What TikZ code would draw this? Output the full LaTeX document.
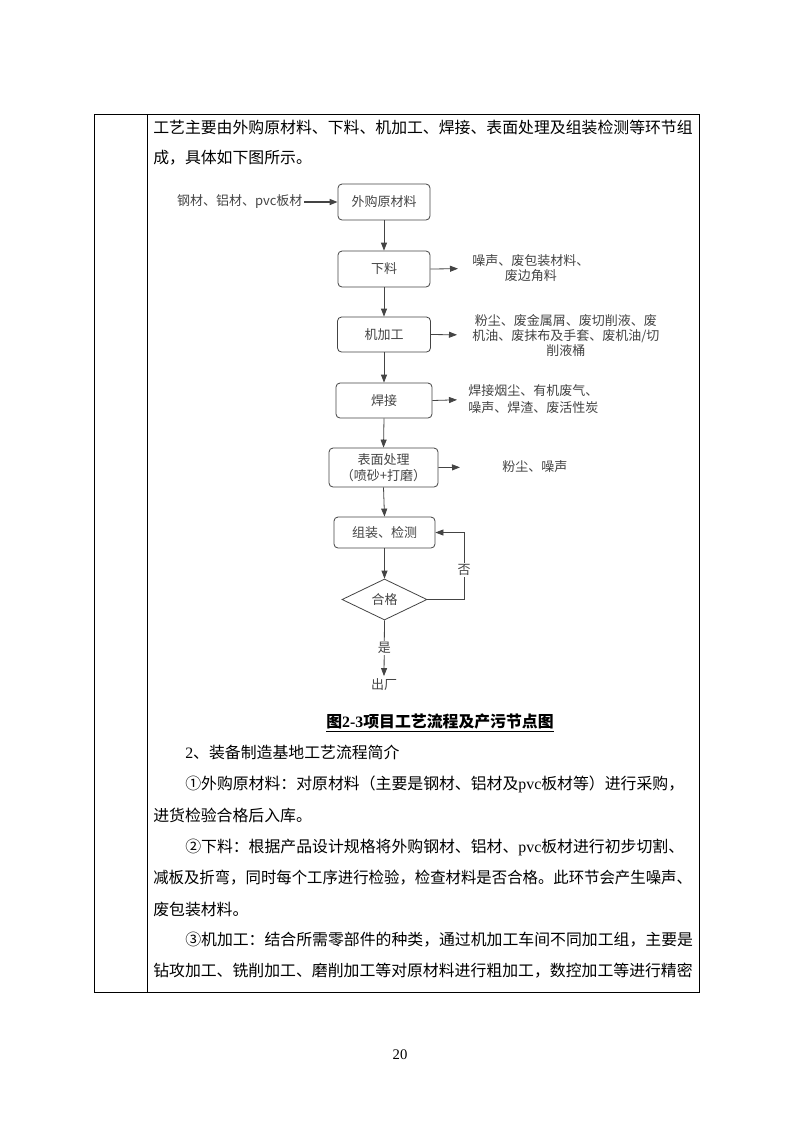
\documentclass[tikz,border=0pt]{standalone}
\usepackage{fontspec}
\usepackage{xcolor}
\usepackage{graphicx}
\usepackage{tikz}
\usetikzlibrary{arrows.meta,shapes.geometric}
\setmainfont{Liberation Serif}
\newfontfamily\cjk{Noto Sans CJK SC}
\newcommand{\lat}[1]{{\rmfamily #1}}
\definecolor{flowgray}{HTML}{444444}
\tikzset{
  body/.style={anchor=west,inner sep=0pt,font=\cjk\fontsize{11.9}{14}\selectfont},
  proc/.style={draw=flowgray,rounded corners=3pt,line width=0.6pt,inner sep=0pt,align=center,
    text=flowgray,font=\cjk\fontsize{9.75}{12.5}\selectfont},
  dia/.style={draw=flowgray,diamond,aspect=2.07,line width=0.6pt,inner sep=0pt,
    minimum width=63.75pt,minimum height=30.75pt,text=flowgray,font=\cjk\fontsize{9.75}{12}\selectfont},
  waste/.style={anchor=west,inner sep=0pt,text=flowgray,font=\cjk\fontsize{9.75}{11.25}\selectfont},
  flow/.style={draw=flowgray,line width=0.6pt,->}
}
\begin{document}
\begin{tikzpicture}[x=0.75pt,y=-0.75pt,>={Triangle[length=6pt,width=4.5pt]}]
\useasboundingbox[fill=white](0,0)rectangle(793,1122);
\draw[line width=0.75pt](94,114)rectangle(699,992);
\draw[line width=0.75pt](147,114)--(147,992);

\node[body](t1)at(153,127){工艺主要由外购原材料、下料、机加工、焊接、表面处理及组装检测等环节组};
\node[body](t2)at(153,158){成，具体如下图所示。};

\node[proc,minimum width=69pt,minimum height=27pt](wg)at(384,202){外购原材料};
\node[proc,minimum width=69pt,minimum height=27pt](xl)at(384,269){下料};
\node[proc,minimum width=69.75pt,minimum height=26.25pt](jjg)at(384,334.5){机加工};
\node[proc,minimum width=72pt,minimum height=26.25pt](hj)at(384,400.5){焊接};
\node[proc,minimum width=81.75pt,minimum height=29.25pt](bm)at(383.5,467.5){表面处理\\（喷砂+打磨）};
\node[proc,minimum width=75.75pt,minimum height=23.25pt](zj)at(384.5,532.5){组装、检测};
\node[dia](hg)at(384.5,599.5){合格};
\node[text=flowgray,inner sep=2pt,font=\cjk\fontsize{9.75}{12}\selectfont](cc)at(384,685){出厂};
\node[waste,anchor=east,inner sep=1pt](yl)at(304,202){钢材、铝材、pvc板材};

\node[waste,align=center](w1)at(472,268.5){噪声、废包装材料、\\废边角料};
\node[waste,align=center](w2)at(472,335){粉尘、废金属屑、废切削液、废\\机油、废抹布及手套、废机油/切\\削液桶};
\node[waste,align=left](w3)at(468,399.5){焊接烟尘、有机废气、\\[1.5pt]噪声、焊渣、废活性炭};
\node[waste](w4)at(502,467){粉尘、噪声};

\draw[flow,line width=1.1pt](yl)--(wg);
\draw[flow](wg.south)--(xl.north);
\draw[flow](xl.south)--(jjg.north);
\draw[flow](jjg.south)--(hj.north);
\draw[flow](hj.south)--(bm.north);
\draw[flow](bm.south)--(zj.north);
\draw[flow](zj.south)--(hg.north);
\draw[flow,shorten >=10.5pt](xl.east)--(w1.west);
\draw[flow,shorten >=11.25pt](jjg.east)--(w2.west);
\draw[flow,shorten >=8.25pt](hj.east)--(w3.west);
\draw[flow,shorten >=31.5pt](bm.east)--(w4.west);
\coordinate(fb)at(464,599.5);
\draw[flow](hg.east)--(fb)|-node[pos=0.22,fill=white,inner sep=1pt,text=flowgray,font=\cjk\fontsize{9.75}{12}\selectfont]{否}(zj.east);
\draw[flow](hg.south)--node[fill=white,inner sep=1pt,text=flowgray,font=\cjk\fontsize{9.75}{12}\selectfont]{是}(cc.north);

\node[inner sep=0pt,font=\cjk\bfseries\fontsize{11.9}{14}\selectfont](cap)at(440,722){图\lat{\textbf{2-3}}项目工艺流程及产污节点图};
\draw[line width=0.7pt]([yshift=-1.2pt]cap.south west)--([yshift=-1.2pt]cap.south east);
\node[body](t3)at(185,752){\lat{2}、装备制造基地工艺流程简介};
\node[body](t4)at(185,784){①外购原材料：对原材料（主要是钢材、铝材及\lat{pvc}板材等）进行采购，};
\node[body](t5)at(153,815){进货检验合格后入库。};
\node[body](t6)at(185,847){②下料：根据产品设计规格将外购钢材、铝材、\lat{pvc}板材进行初步切割、};
\node[body](t7)at(153,878){\scalebox{0.97}[1]{减板及折弯，同时每个工序进行检验，检查材料是否合格。此环节会产生噪声、}};
\node[body](t8)at(153,909){废包装材料。};
\node[body](t9)at(185,940){③机加工：结合所需零部件的种类，通过机加工车间不同加工组，主要是};
\node[body](t10)at(153,971){钻攻加工、铣削加工、磨削加工等对原材料进行粗加工，数控加工等进行精密};
\node[inner sep=0pt,font=\fontsize{11}{13}\selectfont](pg)at(400,1055){20};
\end{tikzpicture}
\end{document}
